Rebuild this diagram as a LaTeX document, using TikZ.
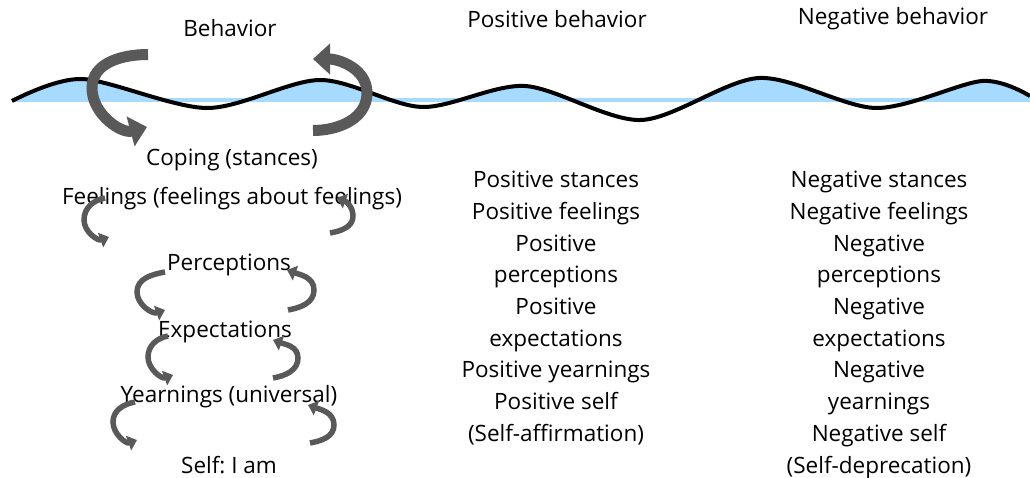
\documentclass[tikz,border=0pt]{standalone}
\usepackage{fontspec}
\setmainfont{Open Sans}
\usetikzlibrary{arrows.meta}
\definecolor{seablue}{RGB}{166,218,255}
\definecolor{curlgray}{RGB}{89,89,89}
\tikzset{txt/.style={font=\fontsize{22.5}{31.7}\selectfont, inner sep=0pt, align=center},
  wave/.style={line width=4pt, line join=round},
  bigcurl/.style={draw=curlgray, line width=11pt, -{Triangle[width=30pt,length=17pt]}},
  smallcurl/.style={draw=curlgray, line width=5.5pt, -{Triangle[width=15pt,length=9pt]}}}
\frenchspacing

\begin{document}
\begin{tikzpicture}[x=1pt,y=1pt]
    \useasboundingbox (0,0) rectangle (1030,-478);
    % water line
    \begin{scope}
      \clip (0,0) rectangle (1030,-101.7);
      \fill[seablue] plot[smooth] coordinates {(12,-101) (82,-79) (207,-108) (320,-80) (422,-107) (525,-86) (641,-120) (759,-78) (876,-108) (982,-81) (1030,-96)} -- (1030,-101.7) -- cycle;
    \end{scope}
    \fill[seablue] (12,-98.5) rectangle (1030,-101.7);
    \draw[wave] plot[smooth] coordinates {(12,-101) (82,-79) (207,-108) (320,-80) (422,-107) (525,-86) (641,-120) (759,-78) (876,-108) (982,-81) (1030,-96)};

    \node[txt] (behavior) at (230,-28) {Behavior};
    \node[txt] (posbeh) at (557,-19) {Positive behavior};
    \node[txt] (negbeh) at (893,-19) {Negative behavior};

    \node[txt] (coping) at (232,-160) {Coping (stances)};
    \node[txt] (feelings) at (232,-199) {Feelings (feelings about feelings)};
    \node[txt] (percept) at (229,-265) {Perceptions};
    \node[txt] (expect) at (225,-332) {Expectations};
    \node[txt] (yearn) at (229,-397) {Yearnings (universal)};
    \node[txt] (self) at (229,-465) {Self: I am};

    \node[txt, anchor=north] (poscol) at (556,-171) {Positive stances\\Positive feelings\\Positive\\perceptions\\Positive\\expectations\\Positive yearnings\\Positive self\\(Self-affirmation)};
    \node[txt, anchor=north] (negcol) at (879,-171) {Negative stances\\Negative feelings\\Negative\\perceptions\\Negative\\expectations\\Negative\\yearnings\\Negative self\\(Self-deprecation)};

    % turning arrows
    \coordinate (bl-tail) at (148,-54.5);
    \coordinate (bl-side) at (92,-88);
    \coordinate (bl-tip) at (147,-127);
    \coordinate (br-tail) at (313,-130.5);
    \coordinate (br-side) at (367,-93);
    \coordinate (br-tip) at (313,-59);
    \draw[bigcurl] (bl-tail) to[out=180,in=90] (bl-side) to[out=-90,in=195] (bl-tip);
    \draw[bigcurl] (br-tail) to[out=0,in=-90] (br-side) to[out=90,in=0] (br-tip);

    \coordinate (fl-tail) at (105,-198);
    \coordinate (fl-side) at (84,-220);
    \coordinate (fl-tip) at (109,-237);
    \coordinate (fr-tail) at (330,-233);
    \coordinate (fr-side) at (353,-216);
    \coordinate (fr-tip) at (337,-198);
    \coordinate (pl-tail) at (165,-272);
    \coordinate (pl-side) at (137,-292);
    \coordinate (pl-tip) at (165,-310);
    \coordinate (pr-tail) at (288,-310);
    \coordinate (pr-side) at (314,-290);
    \coordinate (pr-tip) at (287,-270);
    \coordinate (el-tail) at (168,-336);
    \coordinate (el-side) at (148,-357);
    \coordinate (el-tip) at (173,-375);
    \coordinate (er-tail) at (273,-378);
    \coordinate (er-side) at (298,-358);
    \coordinate (er-tip) at (273,-340);
    \coordinate (yl-tail) at (135,-402);
    \coordinate (yl-side) at (113,-422);
    \coordinate (yl-tip) at (137,-440);
    \coordinate (yr-tail) at (310,-443);
    \coordinate (yr-side) at (334,-425);
    \coordinate (yr-tip) at (308,-405);
    \foreach \s in {fl,pl,el,yl}
      \draw[smallcurl] (\s-tail) to[out=190,in=90] (\s-side) to[out=-90,in=200] (\s-tip);
    \foreach \s in {fr,pr,er,yr}
      \draw[smallcurl] (\s-tail) to[out=10,in=-90] (\s-side) to[out=90,in=-20] (\s-tip);
\end{tikzpicture}
\end{document}
